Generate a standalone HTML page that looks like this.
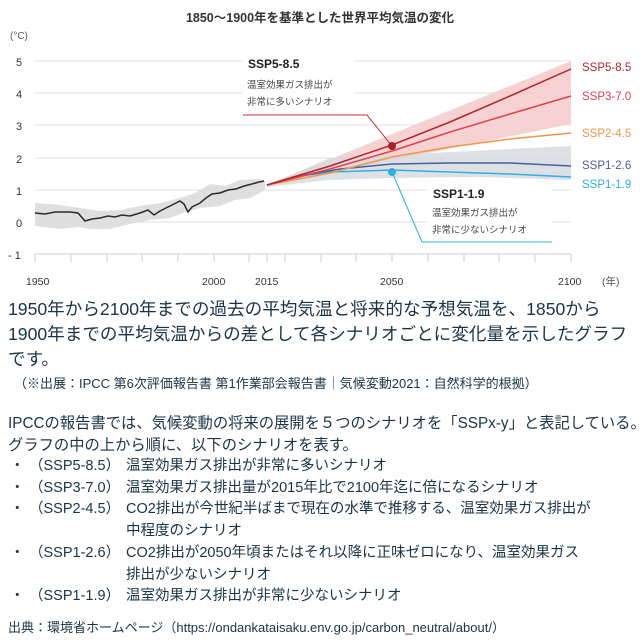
<!DOCTYPE html>
<html><head><meta charset="utf-8"><style>
body{margin:0;background:#fff;width:640px;height:640px;overflow:hidden;font-family:"Liberation Sans","Noto Sans CJK JP",sans-serif;}
svg text{font-family:"Liberation Sans","Noto Sans CJK JP",sans-serif;}
.t{position:absolute;left:8px;color:#1a3446;white-space:nowrap;}
.b{position:absolute;color:#1a3446;white-space:nowrap;font-size:14.5px;}
</style></head><body>
<svg width="640" height="290" style="position:absolute;left:0;top:0">
<text x="320" y="22" text-anchor="middle" font-size="12.5" font-weight="bold" fill="#333">1850〜1900年を基準とした世界平均気温の変化</text>
<text x="10" y="39" font-size="10" fill="#555">(°C)</text>
<g stroke="#e2e2e2" stroke-width="1">
<line x1="35" y1="61" x2="571" y2="61"/><line x1="35" y1="93" x2="571" y2="93"/><line x1="35" y1="125" x2="571" y2="125"/><line x1="35" y1="158" x2="571" y2="158"/><line x1="35" y1="190" x2="571" y2="190"/><line x1="35" y1="222" x2="571" y2="222"/>
</g>
<line x1="35" y1="254" x2="571" y2="254" stroke="#ccc"/>
<g stroke="#ccc"><path d="M35 254v8M71 254v8M107 254v8M142 254v8M178 254v8M214 254v8M249 254v8M267 254v8M285 254v8M321 254v8M356 254v8M392 254v8M428 254v8M464 254v8M499 254v8M535 254v8M571 254v8"/></g>
<g font-size="11" fill="#333">
<text x="16" y="66">5</text><text x="16" y="98">4</text><text x="16" y="130">3</text><text x="16" y="163">2</text><text x="16" y="195">1</text><text x="16" y="227">0</text><text x="8" y="259">- 1</text>
<text x="26" y="285" font-size="10.5">1950</text><text x="202" y="285" font-size="10.5">2000</text><text x="255" y="285" font-size="10.5">2015</text><text x="380" y="285" font-size="10.5">2050</text><text x="558" y="285" font-size="10.5">2100</text><text x="602" y="285" font-size="10.5" fill="#555">(年)</text>
</g>
<path d="M35 203L60 205L80 208L100 211L120 210L140 206L160 203L180 198L195 193L210 184L225 186L240 180L258 179L265 181L265 190L250 198L235 200L220 206L200 208L185 212L170 218L150 220L130 224L110 229L90 229L80 227L60 229L35 226Z" fill="#dcdcdc" opacity="0.9"/>
<path d="M267 185L571 61L571 124L267 186Z" fill="#f6caca" opacity="0.85"/>
<path d="M267 185L330 158L571 146L571 180L480 177L390 178L330 180L267 187Z" fill="#d5d9de" opacity="0.8"/>
<polyline fill="none" stroke="#2b2b2b" stroke-width="1.5" points="35,213 45,214 55,212 70,212 78,213 85,221 92,219 100,218 108,216 115,217 122,215 130,216 140,213 148,210 154,215 160,211 170,206 180,201 184,204 188,212 192,207 200,203 206,198 212,194 220,193 228,190 236,189 244,186 252,184 259,182 264,181"/>
<polyline fill="none" stroke="#2fb0de" stroke-width="1.5" points="267,185 300,176 330,172 392,170 450,172 510,174 571,177"/>
<polyline fill="none" stroke="#4b5ea0" stroke-width="1.5" points="267,185 300,176 340,169 392,164 450,163 510,163 571,166"/>
<polyline fill="none" stroke="#f0964a" stroke-width="1.5" points="267,185 330,173 392,157 450,147 510,139 571,133"/>
<polyline fill="none" stroke="#e0414e" stroke-width="1.5" points="267,185 330,169 392,151 450,132 510,114 571,96"/>
<polyline fill="none" stroke="#b4232c" stroke-width="1.5" points="267,185 330,166 392,145 450,122 510,96 571,69"/>
<polyline fill="none" stroke="#c0303a" stroke-width="1" points="243,115 367,115 392,146"/>
<circle cx="392" cy="146" r="4" fill="#a5202a"/>
<polyline fill="none" stroke="#2fb0de" stroke-width="1" points="392,172 422,242 552,242"/>
<circle cx="392" cy="172" r="4" fill="#2fb0de"/>
<rect x="243" y="55" width="112" height="50" fill="#fff"/>
<text x="248" y="68" font-size="12" font-weight="bold" fill="#222">SSP5-8.5</text>
<text x="247" y="88" font-size="9.5" fill="#444">温室効果ガス排出が</text>
<text x="247" y="105" font-size="9.5" fill="#444">非常に多いシナリオ</text>
<rect x="428" y="183" width="124" height="52" fill="#fff"/>
<text x="433" y="198" font-size="12" font-weight="bold" fill="#222">SSP1-1.9</text>
<text x="432" y="216" font-size="9.5" fill="#444">温室効果ガス排出が</text>
<text x="432" y="233" font-size="9.5" fill="#444">非常に少ないシナリオ</text>
<g font-size="11.5">
<text x="582" y="71" fill="#b4232c">SSP5-8.5</text>
<text x="582" y="100" fill="#e0414e">SSP3-7.0</text>
<text x="582" y="137" fill="#f0964a">SSP2-4.5</text>
<text x="582" y="169" fill="#4b5ea0">SSP1-2.6</text>
<text x="582" y="188" fill="#2fb0de">SSP1-1.9</text>
</g>
</svg>
<div class="t" style="top:297px;font-size:17.6px;line-height:25px;">1950年から2100年までの過去の平均気温と将来的な予想気温を、1850から<br>1900年までの平均気温からの差として各シナリオごとに変化量を示したグラフ<br>です。</div>
<div class="t" style="top:373px;left:14px;font-size:13px;">（※出展：IPCC 第6次評価報告書 第1作業部会報告書｜気候変動2021：自然科学的根拠）</div>
<div class="t" style="top:413px;font-size:15.3px;line-height:21.5px;">IPCCの報告書では、気候変動の将来の展開を５つのシナリオを「SSPx-y」と表記している。<br>グラフの中の上から順に、以下のシナリオを表す。</div>
<div class="b" style="left:10px;top:456px;line-height:21.7px;">・<br>・<br>・<br><br>・<br><br>・</div>
<div class="b" style="left:29px;top:456px;line-height:21.7px;">（SSP5-8.5）<br>（SSP3-7.0）<br>（SSP2-4.5）<br><br>（SSP1-2.6）<br><br>（SSP1-1.9）</div>
<div class="b" style="left:126px;top:456px;line-height:21.7px;">温室効果ガス排出が非常に多いシナリオ<br>温室効果ガス排出量が2015年比で2100年迄に倍になるシナリオ<br>CO2排出が今世紀半ばまで現在の水準で推移する、温室効果ガス排出が<br>中程度のシナリオ<br>CO2排出が2050年頃またはそれ以降に正味ゼロになり、温室効果ガス<br>排出が少ないシナリオ<br>温室効果ガス排出が非常に少ないシナリオ</div>
<div class="t" style="top:617px;font-size:13px;">出典：環境省ホームページ（https://ondankataisaku.env.go.jp/carbon_neutral/about/）</div>
</body></html>
